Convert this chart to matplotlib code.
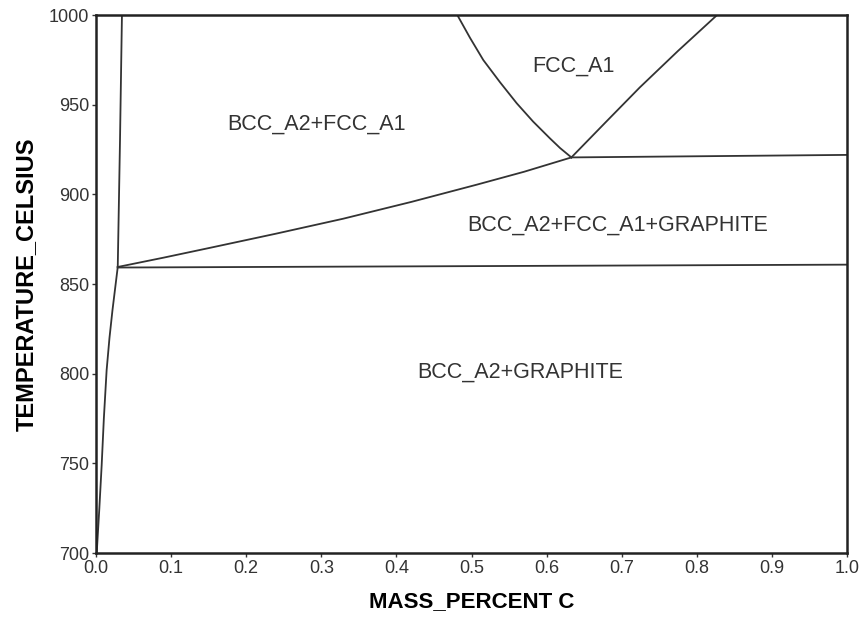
import matplotlib
matplotlib.use("Agg")
import matplotlib.pyplot as plt

plt.rcParams['font.family'] = ['Liberation Sans', 'DejaVu Sans']

# phase boundaries (mass percent C, temperature in C)
alpha_x = [0.001, 0.0045, 0.0076, 0.0105, 0.0142, 0.0180, 0.0220, 0.0290]
alpha_t = [700, 725, 749, 775, 802, 820, 835.5, 859.5]

alpha_top_x = [0.0290, 0.0320, 0.0346]
alpha_top_t = [859.5, 930, 1000]

eutectoid_x = [0.029, 1.0]
eutectoid_t = [859.2, 860.8]

bcc_fcc_x = [0.029, 0.09, 0.152, 0.24, 0.329, 0.42, 0.507, 0.57, 0.633]
bcc_fcc_t = [859.5, 864.7, 870.2, 878.1, 886.4, 895.8, 905.4, 912.6, 920.6]

upper_x = [0.633, 1.0]
upper_t = [920.6, 922.0]

fcc_left_x = [0.633, 0.618, 0.6045, 0.582, 0.5602, 0.538, 0.5157, 0.498, 0.4811]
fcc_left_t = [920.6, 925.8, 931.2, 940.6, 950.8, 962.5, 974.9, 987.3, 1000]

fcc_right_x = [0.633, 0.680, 0.724, 0.775, 0.827]
fcc_right_t = [920.6, 940.8, 959.6, 980, 1000]

labels = ["BCC_A2+FCC_A1", "FCC_A1", "BCC_A2+FCC_A1+GRAPHITE", "BCC_A2+GRAPHITE"]
label_x = [0.293, 0.636, 0.695, 0.565]
label_t = [939, 971.6, 883, 801]

fig = plt.figure(figsize=(8.63, 6.26), dpi=100)
ax = fig.add_axes([0.1112, 0.1166, 0.8703, 0.8594])

lc = '#333333'
for xs, ts in [(alpha_x, alpha_t), (alpha_top_x, alpha_top_t), (eutectoid_x, eutectoid_t),
               (bcc_fcc_x, bcc_fcc_t), (upper_x, upper_t), (fcc_left_x, fcc_left_t),
               (fcc_right_x, fcc_right_t)]:
    ax.plot(xs, ts, color=lc, lw=1.3)

for s, x, t in zip(labels, label_x, label_t):
    ax.text(x, t, s, ha='center', va='center', fontsize=15.5, color='#333333')

ax.set_xlim(0, 1.0)
ax.set_ylim(700, 1000)
ax.set_xticks([i / 10 for i in range(11)])
ax.set_xticklabels(["%.1f" % (i / 10) for i in range(11)])
ax.set_yticks(range(700, 1001, 50))
ax.tick_params(labelsize=13, labelcolor='#333333', length=3, width=1, color='#333333', pad=2)
for sp in ax.spines.values():
    sp.set_linewidth(1.8)
    sp.set_color('#222222')

ax.set_xlabel("MASS_PERCENT C", fontsize=16, fontweight='bold', labelpad=10)
ax.set_ylabel("TEMPERATURE_CELSIUS", fontsize=17, fontweight='bold', labelpad=8)

fig.savefig("out.png", dpi=100)
